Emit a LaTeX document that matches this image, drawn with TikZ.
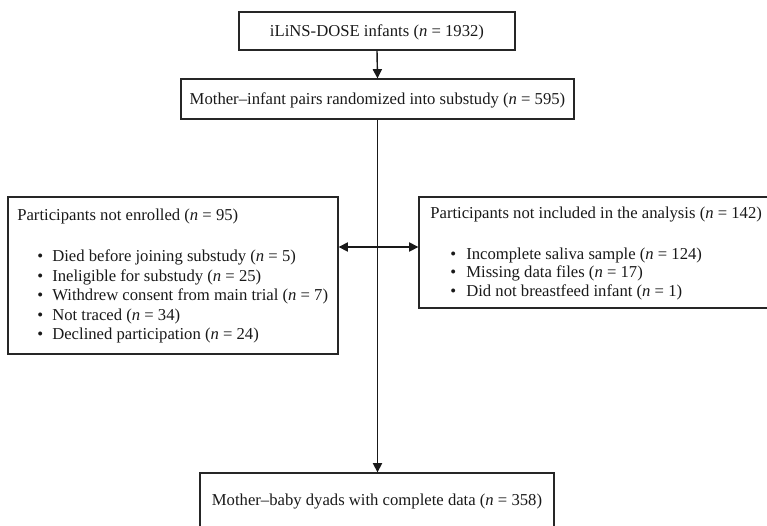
\documentclass[tikz,border=0pt]{standalone}
\usepackage{fontspec}
\setmainfont{Liberation Serif}
\usetikzlibrary{arrows.meta,fit}
\tikzset{
  box/.style={draw=black!85, line width=0.8pt, inner sep=0pt},
  txt/.style={inner sep=0pt, font=\fontsize{10}{12}\selectfont, text=black!90},
  conn/.style={draw=black!90, line width=0.85pt, -{Triangle[length=5.5pt,width=5.5pt]}},
  bconn/.style={draw=black!90, line width=0.85pt, {Triangle[length=5.5pt,width=5.5pt]}-{Triangle[length=5.5pt,width=5.5pt]}},
}
\newcommand{\nn}[1]{(\textit{n}~=~#1)}
\newcommand{\bitem}[1]{\makebox[#1][c]{\textbullet}}
\begin{document}
\begin{tikzpicture}[x=0.6pt,y=-0.6pt]
\useasboundingbox (0,0) rectangle (767,525);
\clip (0,0) rectangle (767,525);
% boxes
\node[box, fit={(239,12) (515,50)}] (b1) {};
\node[box, fit={(181,79) (574,119)}] (b2) {};
\node[box, fit={(8,197) (338,354)}] (bl) {};
\node[box, fit={(419,197) (790,308)}] (br) {};
\node[box, fit={(200,473) (554,560)}] (b3) {};
% texts
\node[txt, anchor=base] (t1) at (377,36) {iLiNS-DOSE infants \nn{1932}};
\node[txt, anchor=base] (t2) at (377.5,104) {Mother--infant pairs randomized into substudy \nn{595}};
\node[txt, anchor=base] (t3) at (377,505) {Mother--baby dyads with complete data \nn{358}};
% left box
\node[txt, anchor=base west] (lt) at (17,220) {Participants not enrolled \nn{95}};
\foreach \i/\y/\s in {1/261.5/{Died before joining substudy \nn{5}},
                     2/281/{Ineligible for substudy \nn{25}},
                     3/300.5/{Withdrew consent from main trial \nn{7}},
                     4/320/{Not traced \nn{34}},
                     5/339.5/{Declined participation \nn{24}}}{
  \node[txt, anchor=base west] (li\i) at (28,\y) {\bitem{14.4pt}\s};
}
% right box
\node[txt, anchor=base west] (rt) at (430,218) {Participants not included in the analysis \nn{142}};
\foreach \i/\y/\s in {1/259/{Incomplete saliva sample \nn{124}},
                     2/277.5/{Missing data files \nn{17}},
                     3/296/{Did not breastfeed infant \nn{1}}}{
  \node[txt, anchor=base west] (ri\i) at (440,\y) {\bitem{15.6pt}\s};
}
% connectors
\draw[conn] (b1.south) -- (b2.north);
\draw[conn] (b2.south) -- (b3.north -| b2.south);
\draw[bconn] (bl.east |- 0,247) coordinate (la) -- (br.west |- 0,247) coordinate (ra);
\end{tikzpicture}
\end{document}
